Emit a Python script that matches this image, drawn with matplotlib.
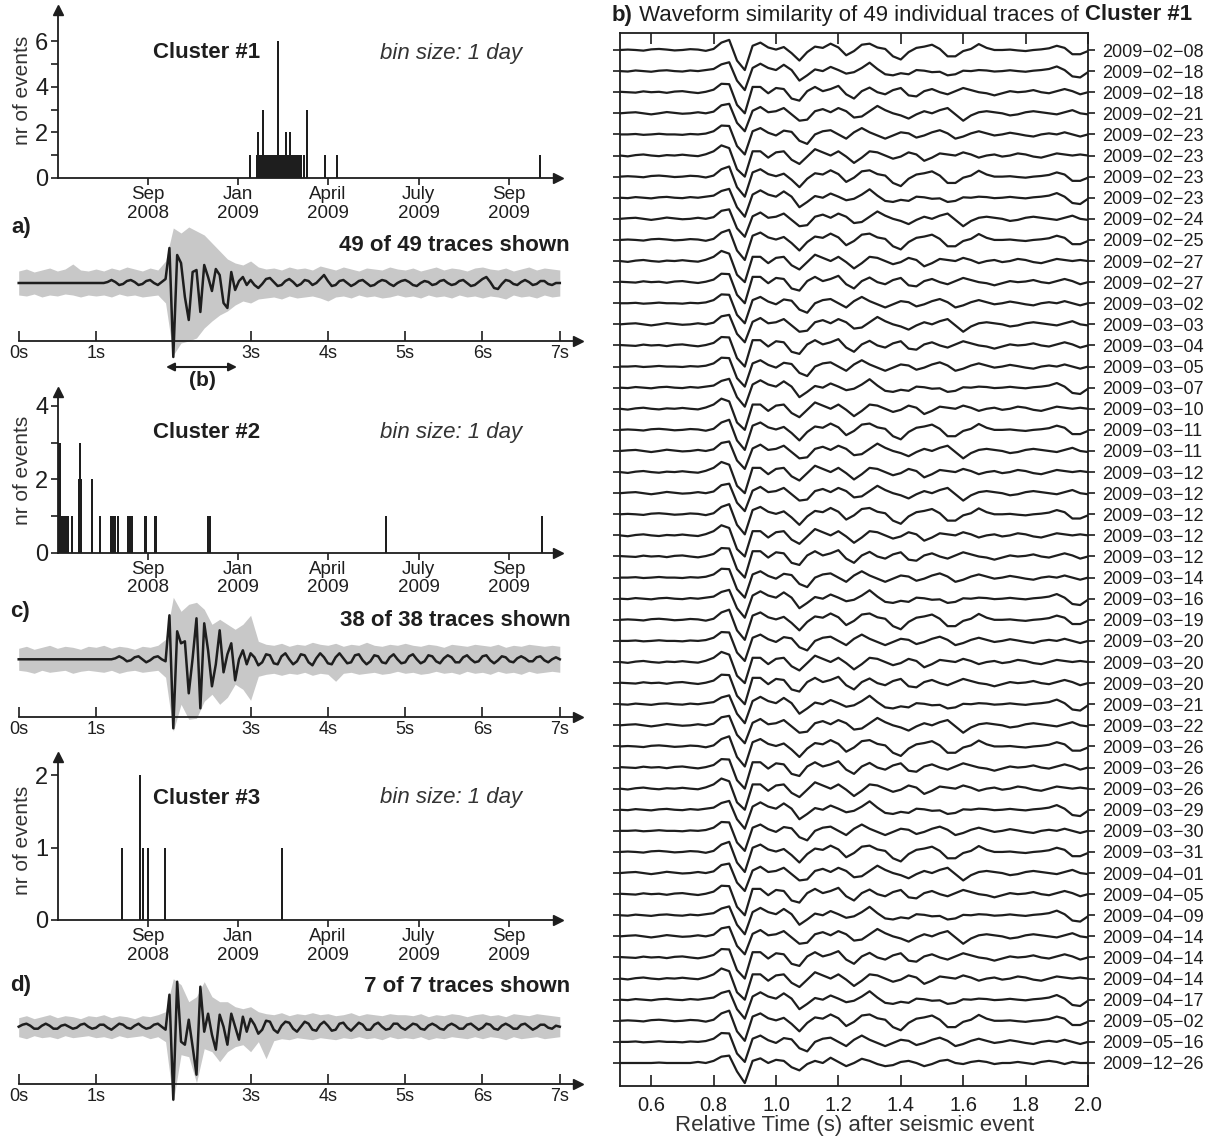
import matplotlib.pyplot as plt
import numpy as np

plt.rcParams['font.family'] = ['Liberation Sans', 'DejaVu Sans']

W, H = 1209, 1137
INK = '#1e1e1e'
GREY = '#c8c8c8'

# ---------------- data ----------------
# histogram x axis: days since start of axis (1 day ~ 1 px)
DATE_TICKS = [90, 180, 270, 360.5, 451]
DATE_LABELS = ['Sep\n2008', 'Jan\n2009', 'April\n2009', 'July\n2009', 'Sep\n2009']

c1_days = [192, 200, 205, 220, 228, 232, 249, 267, 279, 482,
           199, 201, 202, 203, 204, 206, 207, 208, 209, 210, 212, 213, 215, 216,
           218, 222, 223, 224, 226, 230, 234, 236, 238, 240, 241, 243, 246]
c1_counts = [1, 2, 3, 6, 2, 2, 3, 1, 1, 1,
             1, 1, 1, 1, 1, 1, 1, 1, 1, 1, 1, 1, 1, 1,
             1, 1, 1, 1, 1, 1, 1, 1, 1, 1, 1, 1, 1]

c2_days = [1, 2, 4, 5, 7, 9, 10, 14, 21, 22, 23, 34, 42, 53, 55, 57, 60,
           70, 71, 73, 74, 87, 88, 97, 98, 150, 152, 328, 484]
c2_counts = [3, 3, 1, 1, 1, 1, 1, 1, 2, 3, 2, 2, 1, 1, 1, 1, 1,
             1, 1, 1, 1, 1, 1, 1, 1, 1, 1, 1, 1]

c3_days = [64, 82, 85, 90, 107, 224]
c3_counts = [1, 2, 1, 1, 1, 1]

# stacked traces (black), sampled every 0.05 s from 0 to 7 s, amplitude in px
stack_a = [0, 0, 0, 0, 0, 0, 0, 0, 0, 0,
           0, 0, 0, 0, 0, 0, 0, 0, 0, 0,
           0, 0, 0, 1, 3, 1, -2, -1, 2, 3,
           1, -2, -1, 2, 3, 0, -2, 1, 4, 35,
           -74, 28, 20, -14, -37, 11, 13, -29, 18, 6,
           -8, 14, 8, -20, -25, 11, -7, 2, 6, -2,
           3, -2, -5, -1, 4, 5, 1, -3, -2, 2,
           4, 1, -3, -1, 3, 2, -2, 0, 4, 8,
           2, -3, -2, 2, 3, 0, -3, -1, 2, 3,
           0, -3, -2, 1, 3, 2, -1, -3, 0, 2,
           3, 1, -2, -3, 0, 2, 1, -2, -1, 2,
           3, 0, -2, -1, 2, 3, 0, -3, -2, 1,
           4, 6, 1, -5, -6, -1, 3, 2, -1, -2,
           1, 3, 1, -2, -1, 2, 2, -1, -2, 0,
           0]
stack_c = [0, 0, 0, 0, 0, 0, 0, 0, 0, 0,
           0, 0, 0, 0, 0, 0, 0, 0, 0, 0,
           0, 0, 0, 0, 0, 1, 3, 1, -2, -1,
           2, 3, 0, -3, -1, 2, 3, 0, -2, 44,
           -69, 28, 16, 18, -34, 1, 41, -49, 36, 9,
           -27, -5, 29, -13, 5, 16, -21, 0, 9, -5,
           6, 2, -6, -3, 5, 4, -4, -5, 3, 6,
           0, -5, -2, 5, 4, -3, -6, 1, 6, 2,
           -4, -5, 2, 6, 1, -4, -3, 4, 5, -1,
           -5, -2, 4, 3, -3, -4, 2, 5, 0, -4,
           -3, 3, 5, 0, -4, -2, 4, 3, -2, -4,
           1, 4, 2, -3, -3, 2, 4, 0, -3, -2,
           3, 4, -1, -4, -1, 3, 2, -2, -3, 1,
           3, 1, -2, -2, 2, 3, -1, -3, 0, 2,
           0]
stack_d = [0, 2, 3, 1, -2, -2, 1, 3, 1, -2,
           -2, 1, 2, 0, -2, -1, 2, 3, 0, -2,
           -1, 2, 2, -1, -3, 0, 3, 2, -1, -2,
           1, 3, 0, -2, -1, 2, 3, 0, -3, 32,
           -73, 45, -15, -18, 7, -20, -48, 40, -5, 13,
           -8, -23, 12, 0, -18, 13, 0, -13, 10, -5,
           8, 2, -7, -3, 6, 5, -3, -6, 1, 5,
           4, -2, -5, 0, 5, 3, -3, -4, 2, 5,
           1, -4, -3, 3, 4, -1, -4, 0, 4, 2,
           -3, -3, 2, 4, 0, -3, -2, 3, 3, -1,
           -3, 0, 3, 2, -2, -3, 1, 3, 1, -2,
           -3, 1, 3, 1, -2, -2, 2, 3, 0, -3,
           -1, 3, 2, -2, -3, 1, 3, 1, -2, -2,
           2, 3, 0, -3, -1, 2, 2, -1, -2, 1,
           0]

# grey envelope of the individual traces, every 0.1 s from 0 to 7 s (px)
env_a_up = [12, 14, 11, 13, 15, 12, 14, 19, 13, 12,
            14, 12, 15, 13, 16, 14, 12, 15, 13, 22,
            55, 50, 56, 52, 48, 40, 32, 24, 20, 18,
            22, 16, 14, 15, 13, 16, 14, 15, 13, 17,
            15, 13, 16, 14, 12, 15, 14, 13, 16, 14,
            13, 15, 12, 14, 16, 13, 15, 14, 12, 15,
            16, 14, 13, 15, 12, 14, 16, 13, 15, 14,
            13]
env_a_lo = [-12, -13, -11, -14, -12, -13, -11, -12, -14, -12,
            -13, -12, -14, -11, -13, -12, -14, -13, -12, -20,
            -72, -60, -58, -55, -45, -38, -32, -28, -22, -18,
            -20, -16, -15, -14, -16, -13, -15, -14, -13, -15,
            -18, -14, -13, -15, -12, -14, -13, -15, -14, -12,
            -14, -13, -15, -12, -14, -13, -15, -12, -14, -13,
            -15, -13, -14, -16, -12, -14, -13, -15, -12, -14,
            -13]
env_c_up = [11, 13, 10, 12, 14, 11, 13, 12, 10, 13,
            12, 14, 11, 13, 12, 10, 13, 12, 14, 20,
            62, 48, 55, 57, 50, 35, 40, 35, 30, 35,
            44, 18, 15, 14, 16, 13, 15, 14, 17, 15,
            14, 16, 13, 15, 14, 17, 14, 13, 15, 14,
            16, 14, 13, 15, 14, 12, 15, 14, 13, 15,
            14, 13, 15, 12, 14, 13, 15, 14, 13, 14,
            13]
env_c_lo = [-11, -12, -14, -11, -13, -12, -11, -14, -12, -11,
            -12, -13, -11, -14, -12, -11, -13, -12, -11, -18,
            -72, -45, -60, -59, -42, -35, -45, -38, -25, -30,
            -41, -17, -15, -14, -16, -14, -15, -13, -16, -14,
            -15, -22, -14, -13, -15, -14, -13, -15, -14, -12,
            -14, -13, -15, -14, -12, -14, -13, -15, -12, -14,
            -13, -15, -12, -14, -13, -15, -12, -14, -13, -12,
            -13]
env_d_up = [9, 11, 8, 10, 12, 9, 11, 10, 8, 11,
            10, 12, 9, 11, 10, 8, 11, 10, 12, 15,
            48, 42, 25, 30, 45, 30, 25, 25, 20, 18,
            20, 15, 13, 12, 14, 11, 13, 12, 14, 12,
            13, 11, 12, 14, 11, 13, 12, 11, 13, 12,
            12, 11, 13, 10, 12, 11, 13, 12, 10, 12,
            13, 11, 12, 10, 13, 12, 11, 13, 12, 11,
            10]
env_d_lo = [-10, -12, -9, -11, -10, -12, -9, -11, -10, -9,
            -11, -10, -12, -9, -11, -10, -9, -12, -10, -15,
            -75, -28, -30, -56, -22, -25, -35, -25, -20, -18,
            -25, -15, -32, -14, -12, -13, -11, -12, -13, -11,
            -12, -13, -11, -12, -10, -12, -11, -13, -10, -12,
            -11, -12, -10, -13, -11, -12, -10, -11, -12, -10,
            -12, -10, -11, -13, -10, -12, -11, -10, -12, -11,
            -10]

# panel b: individual waveforms, every 0.025 s from 0.5 to 2.0 s, in row units
shape_a = [0.00, 0.02, 0.00, -0.03, 0.03, 0.05, 0.02, -0.02, 0.00, 0.04, 0.02, -0.04, 0.05,
           0.35, 0.48, -0.50, -0.95, 0.20, 0.35, 0.12, 0.02, 0.14, -0.15, -0.50, -0.10,
           0.16, 0.10, 0.30, 0.12, -0.25, -0.05, 0.25, 0.30, 0.12, 0.05, -0.30, -0.45,
           -0.10, 0.10, 0.16, 0.25, 0.05, -0.30, -0.30, -0.05, 0.05, 0.28, 0.10, 0.00,
           0.00, 0.02, -0.02, -0.05, 0.00, 0.03, 0.08, 0.20, 0.10, -0.20, -0.20, -0.05]
shape_b = [0.00, -0.02, 0.03, 0.00, -0.03, 0.02, 0.04, 0.00, -0.02, 0.03, 0.00, 0.05, 0.10,
           0.32, 0.42, -0.45, -0.90, 0.15, 0.35, 0.15, 0.05, 0.30, 0.05, -0.45, -0.20,
           0.08, 0.00, 0.20, 0.05, -0.12, -0.05, 0.15, 0.40, 0.10, -0.15, -0.20, -0.10,
           -0.15, 0.05, 0.02, -0.05, -0.03, -0.20, -0.15, 0.02, 0.00, 0.05, 0.03, -0.02,
           0.00, 0.04, 0.00, -0.03, 0.02, 0.05, 0.10, 0.22, 0.05, -0.25, -0.30, -0.05]
shape_c = [0.02, 0.00, -0.02, 0.04, 0.00, 0.02, -0.03, 0.03, 0.05, 0.00, -0.04, 0.02, 0.12,
           0.40, 0.38, -0.60, -1.00, 0.25, 0.25, -0.05, 0.20, 0.15, -0.30, -0.40, 0.05,
           0.25, 0.05, 0.15, 0.30, -0.10, -0.30, 0.05, 0.22, 0.00, -0.10, 0.10, 0.20,
           -0.15, -0.20, 0.05, 0.15, 0.00, -0.10, 0.05, 0.20, 0.10, 0.00, -0.05, -0.15,
           -0.05, 0.05, 0.00, 0.03, 0.10, 0.00, -0.05, 0.05, 0.15, 0.05, -0.10, 0.00]
shape_d = [0.00, 0.03, 0.05, 0.00, -0.05, 0.00, 0.06, 0.02, -0.02, 0.00, 0.05, 0.00, 0.08,
           0.38, 0.45, -0.45, -0.85, 0.12, 0.30, 0.05, 0.10, 0.25, -0.05, -0.35, -0.30,
           0.10, 0.20, 0.05, 0.25, 0.10, -0.20, -0.15, 0.10, 0.35, 0.15, 0.00, -0.10,
           -0.25, -0.05, 0.10, 0.00, 0.15, 0.25, -0.05, -0.35, -0.10, 0.05, 0.10, 0.05,
           0.00, -0.10, -0.05, 0.05, 0.10, 0.05, 0.00, -0.05, 0.05, 0.15, 0.00, -0.05]
shape_e = [0.00, 0.00, 0.02, -0.02, 0.00, 0.03, 0.00, 0.00, -0.02, 0.02, 0.00, 0.04, 0.15,
           0.42, 0.40, -0.55, -0.95, 0.15, 0.30, 0.08, -0.05, 0.18, 0.12, -0.30, -0.45,
           0.00, 0.15, 0.20, 0.00, -0.20, 0.10, 0.30, 0.10, -0.05, -0.20, -0.05, 0.10,
           0.05, -0.15, -0.05, 0.10, 0.20, 0.05, -0.20, -0.10, 0.05, 0.15, 0.05, -0.05,
           0.00, 0.08, 0.02, -0.05, -0.10, 0.00, 0.05, 0.00, 0.10, 0.00, -0.10, 0.00]
shape_f = [0.00, -0.04, 0.02, 0.05, 0.00, -0.03, 0.02, 0.00, 0.04, 0.00, -0.03, 0.06, 0.20,
           0.48, 0.35, -0.65, -1.00, 0.20, 0.20, -0.10, 0.15, 0.20, -0.20, -0.40, -0.05,
           0.30, 0.15, 0.00, 0.20, -0.05, -0.35, -0.10, 0.20, 0.15, 0.00, -0.15, -0.05,
           0.15, 0.05, -0.25, -0.10, 0.10, 0.05, 0.00, 0.15, 0.05, -0.10, 0.00, 0.05,
           -0.05, 0.00, 0.10, 0.05, -0.05, -0.10, 0.00, 0.10, 0.05, 0.00, 0.05, 0.00]
shape_g = [0.00, 0.00, 0.00, 0.00, 0.00, 0.02, 0.00, 0.00, 0.00, 0.00, 0.05, 0.00, 0.10,
           0.30, 0.35, -0.40, -0.95, 0.10, 0.22, 0.00, 0.15, 0.10, -0.20, -0.35, -0.05,
           0.10, 0.00, 0.25, 0.05, -0.15, 0.00, 0.20, 0.10, -0.05, -0.15, -0.10, 0.05,
           0.10, 0.00, -0.15, -0.05, 0.10, 0.15, 0.00, -0.05, 0.05, 0.10, 0.05, -0.05,
           0.00, 0.00, 0.05, 0.00, -0.05, 0.05, 0.10, 0.05, -0.05, 0.05, 0.00, 0.00]
row_shape = "ABCDEFABDAFCEDCEBFADFDAFCEBAEFCBDACFBEADCBDCFBAEG"

event_dates = ['2009-02-08', '2009-02-18', '2009-02-18', '2009-02-21', '2009-02-23',
               '2009-02-23', '2009-02-23', '2009-02-23', '2009-02-24', '2009-02-25',
               '2009-02-27', '2009-02-27', '2009-03-02', '2009-03-03', '2009-03-04',
               '2009-03-05', '2009-03-07', '2009-03-10', '2009-03-11', '2009-03-11',
               '2009-03-12', '2009-03-12', '2009-03-12', '2009-03-12', '2009-03-12',
               '2009-03-14', '2009-03-16', '2009-03-19', '2009-03-20', '2009-03-20',
               '2009-03-20', '2009-03-21', '2009-03-22', '2009-03-26', '2009-03-26',
               '2009-03-26', '2009-03-29', '2009-03-30', '2009-03-31', '2009-04-01',
               '2009-04-05', '2009-04-09', '2009-04-14', '2009-04-14', '2009-04-14',
               '2009-04-17', '2009-05-02', '2009-05-16', '2009-12-26']

# ---------------- drawing ----------------
fig = plt.figure(figsize=(W / 100, H / 100), dpi=100)


def px_axes(l, t, r, b):
    return fig.add_axes([l / W, 1 - b / H, (r - l) / W, (b - t) / H])


def ftext(x, y, s, **kw):
    kw.setdefault('color', INK)
    return fig.text(x / W, 1 - y / H, s, **kw)


def draw_hist(days, counts, top, zero, unit, major, minor, name, text_y, label_y):
    ax = px_axes(58, top, 558, zero)
    ax.bar(days, counts, width=1.8, color=INK, linewidth=0)
    ax.set_xlim(0, 500)
    ax.set_ylim(0, (zero - top) / unit)
    ax.patch.set_visible(False)
    for s in ['top', 'right']:
        ax.spines[s].set_visible(False)
    for s in ['left', 'bottom']:
        ax.spines[s].set_linewidth(1.3)
        ax.spines[s].set_color(INK)
    ax.plot(1, 0, '>', transform=ax.transAxes, clip_on=False, color=INK, ms=7)
    ax.plot(0, 1, '^', transform=ax.transAxes, clip_on=False, color=INK, ms=7)
    ax.set_xticks(DATE_TICKS)
    ax.set_xticklabels(DATE_LABELS, fontsize=13.5, linespacing=1.1, color='#333')
    ax.set_yticks(major)
    ax.set_yticks(minor, minor=True)
    ax.tick_params(axis='y', which='both', direction='out', length=5, width=1.2,
                   labelsize=17, pad=2, colors=INK)
    ax.tick_params(axis='x', direction='out', length=5, width=1.2, pad=1, colors=INK)
    ftext(207, text_y, name, fontsize=16, fontweight='bold', ha='center', va='center')
    ftext(451, text_y, 'bin size: 1 day', fontsize=16, style='italic', ha='center',
          va='center', color='#333')
    ftext(22, label_y, 'nr of events', fontsize=15, rotation=90, ha='center',
          va='center', color='#333')
    return ax


def draw_trace(stack, env_up, env_lo, top, zero, axis_y):
    ax = px_axes(18.7, top, 18.7 + 7.23 * 77.3, axis_y)
    ax.set_xlim(0, 7.23)
    ax.set_ylim(-(axis_y - zero), zero - top)
    ax.patch.set_visible(False)
    t_env = np.linspace(0, 7, len(env_up))
    t_st = np.linspace(0, 7, len(stack))
    ax.fill_between(t_env, env_lo, env_up, color=GREY, lw=0, clip_on=False)
    ax.plot(t_st, stack, color=INK, lw=1.8, clip_on=False, zorder=3)
    for s in ['top', 'right', 'left']:
        ax.spines[s].set_visible(False)
    ax.spines['bottom'].set_linewidth(1.3)
    ax.spines['bottom'].set_color(INK)
    ax.plot(1, 0, '>', transform=ax.transAxes, clip_on=False, color=INK, ms=7)
    ax.set_yticks([])
    ax.set_xticks(range(8))
    ax.set_xticklabels(['0s', '1s', '', '3s', '4s', '5s', '6s', '7s'], fontsize=13,
                       color='#333')
    ax.tick_params(axis='x', direction='in', length=7, width=1.2, pad=3, colors=INK)
    return ax


draw_hist(c1_days, c1_counts, 10, 178, 22.8, [0, 2, 4, 6], [1, 3, 5],
          'Cluster #1', 53, 90)
draw_hist(c2_days, c2_counts, 392, 552.7, 36.7, [0, 2, 4], [1, 3],
          'Cluster #2', 433, 470)
draw_hist(c3_days, c3_counts, 757, 920, 72.5, [0, 1, 2], [],
          'Cluster #3', 798, 840)

ax_a = draw_trace(stack_a, env_a_up, env_a_lo, 221, 283, 341)
ax_c = draw_trace(stack_c, env_c_up, env_c_lo, 597, 659.3, 716.7)
ax_d = draw_trace(stack_d, env_d_up, env_d_lo, 965, 1026.7, 1084.3)

ftext(11, 228, 'a)', fontsize=16, fontweight='bold', ha='left', va='center')
ftext(570, 246, '49 of 49 traces shown', fontsize=16, fontweight='bold', ha='right', va='center')
ftext(10, 611, 'c)', fontsize=16, fontweight='bold', ha='left', va='center')
ftext(571, 621, '38 of 38 traces shown', fontsize=16, fontweight='bold', ha='right', va='center')
ftext(10, 985, 'd)', fontsize=16, fontweight='bold', ha='left', va='center')
ftext(570, 987, '7 of 7 traces shown', fontsize=16, fontweight='bold', ha='right', va='center')

# window of panel b marked on trace a
ax_a.annotate('', xy=(1.87, -84), xytext=(2.86, -84),
              arrowprops=dict(arrowstyle='<|-|>', lw=1.5, color=INK, mutation_scale=12),
              annotation_clip=False)
ftext(202, 381, '(b)', fontsize=15, fontweight='bold', ha='center', va='center')

# ---------------- panel b ----------------
shapes = {'A': shape_a, 'B': shape_b, 'C': shape_c, 'D': shape_d,
          'E': shape_e, 'F': shape_f, 'G': shape_g}
row_px = 21.1
axb = px_axes(620, 33, 1088, 1086)
n = len(event_dates)
axb.set_xlim(0.5, 2.0)
axb.set_ylim(n - 1 + 23 / row_px, -17 / row_px)
for i, key in enumerate(row_shape):
    vals = np.array(shapes[key])
    tb = np.linspace(0.5, 2.0, len(vals))
    axb.plot(tb, i - vals, color=INK, lw=1.6, solid_joinstyle='round')
for s in axb.spines.values():
    s.set_linewidth(1.3)
    s.set_color(INK)
xt = [0.6, 0.8, 1.0, 1.2, 1.4, 1.6, 1.8, 2.0]
axb.set_xticks(xt)
axb.set_xticklabels(['%.1f' % v for v in xt], color='#333')
axb.tick_params(axis='x', direction='in', length=8, width=1.2, top=True,
                labelsize=14.5, pad=7, colors=INK)
axb.set_yticks(range(n))
axb.set_yticklabels([d.replace('-', '\u2212') for d in event_dates], color='#333')
axb.tick_params(axis='y', direction='out', length=5, width=1.2, left=True, right=True,
                labelleft=False, labelright=True, labelsize=13, pad=5, colors=INK)
ftext(855, 1125, 'Relative Time (s) after seismic event', fontsize=16,
      ha='center', va='center', color='#333')

# title with mixed weights
renderer = fig.canvas.get_renderer()
x = 612
for part, weight in [('b)', 'bold'), (' Waveform similarity of 49 individual traces of ', 'normal'),
                     ('Cluster #1', 'bold')]:
    txt = ftext(x, 15, part, fontsize=16, fontweight=weight, ha='left', va='center')
    x += txt.get_window_extent(renderer=renderer).width

fig.savefig('out.png', dpi=100)
